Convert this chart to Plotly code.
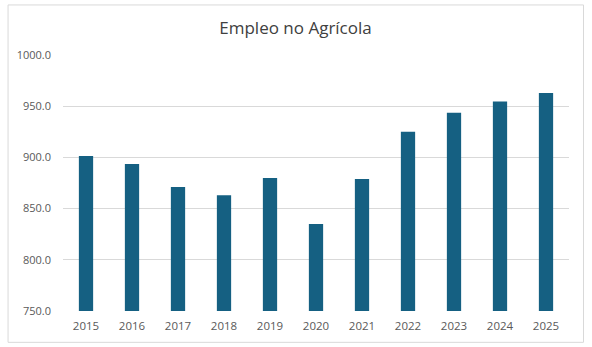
import plotly.graph_objects as go

years = ["2015", "2016", "2017", "2018", "2019", "2020", "2021", "2022", "2023", "2024", "2025"]
empleo = [901.3, 893.5, 871.0, 863.0, 880.0, 835.0, 879.0, 925.0, 943.5, 954.5, 963.0]
y_ticks = [750, 800, 850, 900, 950, 1000]
y_tick_text = ["750.0", "800.0", "850.0", "900.0", "950.0", "1000.0"]
title_text = "Empleo no Agrícola"

W, H = 592, 347
L, R, T, B = 63, 22.5, 55, 36.3
pw, ph = W - L - R, H - T - B

def px(x):
    return (x - L) / pw

def py(y):
    return (H - B - y) / ph

fig = go.Figure(go.Bar(
    x=years, y=empleo, marker=dict(color="#156082", line=dict(width=0)),
    width=0.31, hoverinfo="x+y",
))

fig.update_layout(
    width=W, height=H,
    margin=dict(l=L, r=R, t=T, b=B),
    paper_bgcolor="white", plot_bgcolor="white",
    showlegend=False,
    font=dict(family="Open Sans, Lato, sans-serif", color="#595959", size=11),
    title=dict(text=title_text, x=295.5 / W, xref="container", xanchor="center",
               y=1 - 28 / H, yref="container", yanchor="middle",
               font=dict(size=17, color="#404040", family="Open Sans, sans-serif")),
    xaxis=dict(type="category", showgrid=False, showline=False, ticks="",
               tickfont=dict(size=11.5, color="#595959"), ticklabelstandoff=6),
    yaxis=dict(range=[750, 1000], tickvals=y_ticks, ticktext=y_tick_text,
               showgrid=True, gridcolor="#d9d9d9", gridwidth=1,
               zeroline=False, showline=False, ticks="",
               tickfont=dict(size=11, color="#595959"), ticklabelstandoff=11),
    shapes=[dict(type="rect", xref="paper", yref="paper",
                 x0=px(8), x1=px(584), y0=py(342), y1=py(5),
                 line=dict(color="#d9d9d9", width=1), fillcolor="rgba(0,0,0,0)",
                 layer="below")],
)

fig.write_html("out.html")
